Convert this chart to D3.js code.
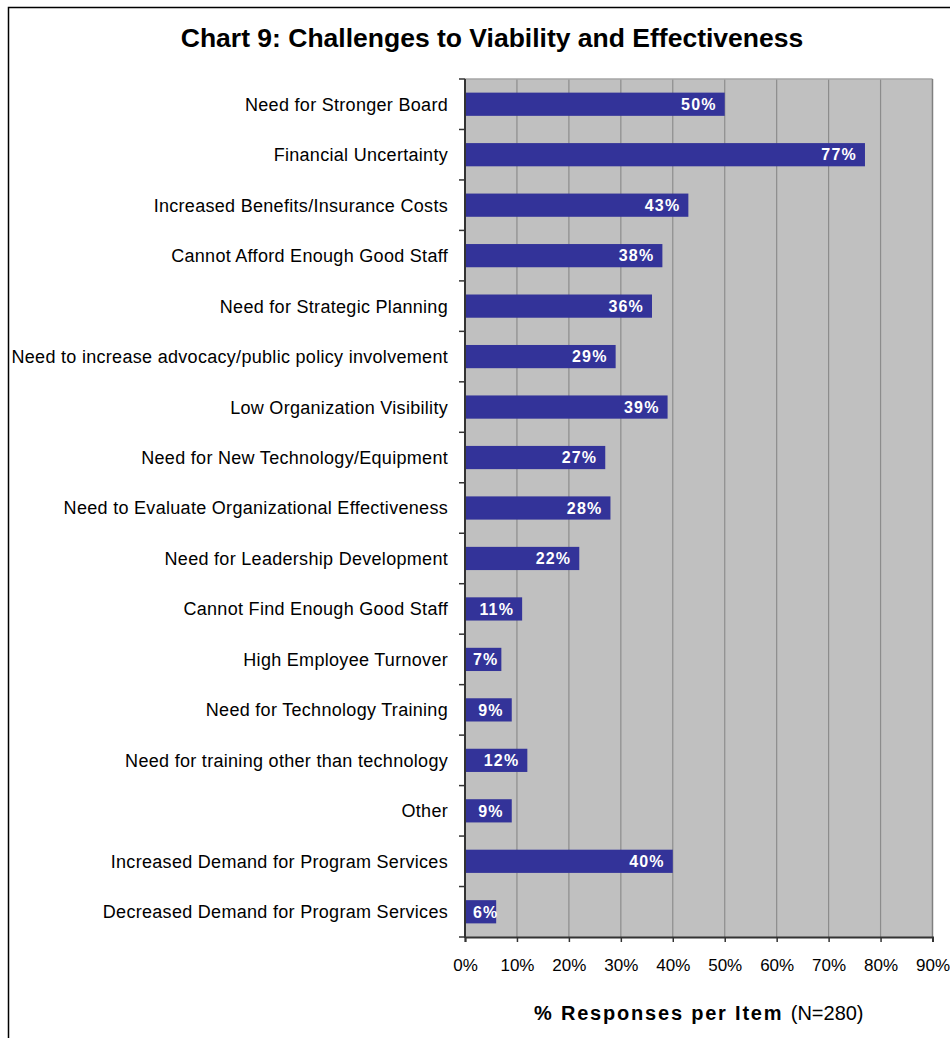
<!DOCTYPE html>
<html>
<head>
<meta charset="utf-8">
<script src="https://cdn.jsdelivr.net/npm/d3@7"></script>
<style>
  html, body { margin: 0; padding: 0; background: #fff; }
  svg { display: block; font-family: "Liberation Sans", Arial, sans-serif; }
</style>
</head>
<body>
<svg id="chart" width="950" height="1038"></svg>
<script>
// Survey items (top to bottom) and share of respondents citing each one (%)
const categories = [
  "Need for Stronger Board",
  "Financial Uncertainty",
  "Increased Benefits/Insurance Costs",
  "Cannot Afford Enough Good Staff",
  "Need for Strategic Planning",
  "Need to increase advocacy/public policy involvement",
  "Low Organization Visibility",
  "Need for New Technology/Equipment",
  "Need to Evaluate Organizational Effectiveness",
  "Need for Leadership Development",
  "Cannot Find Enough Good Staff",
  "High Employee Turnover",
  "Need for Technology Training",
  "Need for training other than technology",
  "Other",
  "Increased Demand for Program Services",
  "Decreased Demand for Program Services"
];
const responses = [50, 77, 43, 38, 36, 29, 39, 27, 28, 22, 11, 7, 9, 12, 9, 40, 6];
const xTicks = [0, 10, 20, 30, 40, 50, 60, 70, 80, 90];

const titleText = "Chart 9: Challenges to Viability and Effectiveness";
const axisTitleBold = "% Responses per Item";
const axisTitleNote = "(N=280)";

const svg = d3.select("#chart");
const W = 950, H = 1038;
const plot = { left: 465, right: 932.5, top: 79, bottom: 937 };

// Outer frame (runs off the right and bottom of the page)
svg.append("path")
  .attr("d", `M8.5,${H} V7.5 H${W}`)
  .attr("fill", "none")
  .attr("stroke", "#000")
  .attr("stroke-width", 1.5);

// Title
svg.append("text")
  .attr("x", 492)
  .attr("y", 46.5)
  .attr("text-anchor", "middle")
  .attr("font-size", 26.5)
  .attr("font-weight", "bold")
  .attr("fill", "#000")
  .text(titleText);

const x = d3.scaleLinear().domain([0, 90]).range([plot.left, plot.right]);
const y = d3.scaleBand().domain(categories).range([plot.top, plot.bottom])
  .paddingInner(0.54).paddingOuter(0.27);

// Plot background
svg.append("rect")
  .attr("x", plot.left).attr("y", plot.top)
  .attr("width", plot.right - plot.left).attr("height", plot.bottom - plot.top)
  .attr("fill", "#c0c0c0");

// Vertical gridlines
svg.append("g")
  .selectAll("line")
  .data(xTicks.slice(1, -1))
  .join("line")
  .attr("x1", d => x(d)).attr("x2", d => x(d))
  .attr("y1", plot.top).attr("y2", plot.bottom)
  .attr("stroke", "#8c8c8c")
  .attr("stroke-width", 1.2);

// Plot border: light top, darker right
svg.append("line")
  .attr("x1", plot.left).attr("x2", plot.right)
  .attr("y1", plot.top).attr("y2", plot.top)
  .attr("stroke", "#a6a6a6").attr("stroke-width", 1.5);
svg.append("line")
  .attr("x1", plot.right).attr("x2", plot.right)
  .attr("y1", plot.top).attr("y2", plot.bottom)
  .attr("stroke", "#808080").attr("stroke-width", 1.5);

// Bars
svg.append("g")
  .selectAll("rect")
  .data(categories)
  .join("rect")
  .attr("x", x(0))
  .attr("y", d => y(d))
  .attr("width", (d, i) => x(responses[i]) - x(0))
  .attr("height", y.bandwidth())
  .attr("fill", "#333399");

// Value labels, inside the bar end (kept inside the plot for short bars)
const labels = svg.append("g")
  .selectAll("text")
  .data(categories)
  .join("text")
  .attr("y", d => y(d) + y.bandwidth() / 2)
  .attr("dy", "0.36em")
  .attr("text-anchor", "end")
  .attr("font-size", 16)
  .attr("font-weight", "bold")
  .attr("letter-spacing", 1.2)
  .attr("fill", "#fff")
  .text((d, i) => responses[i] + "%");
labels.each(function (d, i) {
  const w = this.getComputedTextLength();
  const endX = Math.max(x(responses[i]) - 8, x(0) + 8 + w);
  d3.select(this).attr("x", endX);
});

// Category axis: boundary ticks + labels
const step = (plot.bottom - plot.top) / categories.length;
svg.append("g")
  .selectAll("line")
  .data(d3.range(categories.length + 1))
  .join("line")
  .attr("x1", plot.left - 6).attr("x2", plot.left)
  .attr("y1", i => plot.top + i * step).attr("y2", i => plot.top + i * step)
  .attr("stroke", "#333").attr("stroke-width", 1.5);

svg.append("g")
  .selectAll("text")
  .data(categories)
  .join("text")
  .attr("x", 448)
  .attr("y", d => y(d) + y.bandwidth() / 2)
  .attr("dy", "0.36em")
  .attr("text-anchor", "end")
  .attr("font-size", 18)
  .attr("letter-spacing", 0.3)
  .attr("fill", "#000")
  .text(d => d);

svg.append("line")
  .attr("x1", plot.left).attr("x2", plot.left)
  .attr("y1", plot.top).attr("y2", plot.bottom + 1)
  .attr("stroke", "#333").attr("stroke-width", 2);

// Value axis
const xAxis = d3.axisBottom(x)
  .tickValues(xTicks)
  .tickFormat(d => d + "%")
  .tickSize(5)
  .tickPadding(17);
const gx = svg.append("g")
  .attr("transform", `translate(0,${plot.bottom})`)
  .call(xAxis);
gx.select(".domain").attr("stroke", "#333").attr("stroke-width", 2);
gx.selectAll(".tick line").attr("stroke", "#333").attr("stroke-width", 1.5);
gx.selectAll(".tick text")
  .attr("font-size", 17)
  .attr("font-family", "Liberation Sans, Arial, sans-serif")
  .attr("fill", "#000");

// Value axis title
const axisTitle = svg.append("text")
  .attr("x", (plot.left + plot.right) / 2)
  .attr("y", 1020)
  .attr("text-anchor", "middle")
  .attr("fill", "#000");
axisTitle.append("tspan")
  .attr("font-size", 20)
  .attr("font-weight", "bold")
  .attr("letter-spacing", 1.8)
  .text(axisTitleBold + " ");
axisTitle.append("tspan")
  .attr("font-size", 20)
  .text(axisTitleNote);
</script>
</body>
</html>
